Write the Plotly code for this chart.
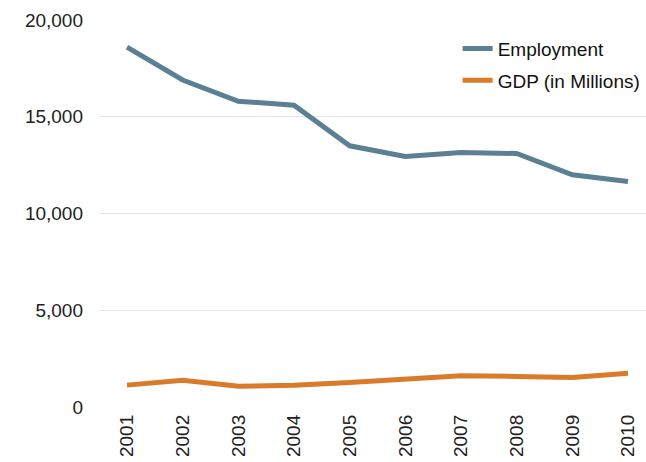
import plotly.graph_objects as go

years = ["2001", "2002", "2003", "2004", "2005", "2006", "2007", "2008", "2009", "2010"]
employment = [18600, 16900, 15800, 15600, 13500, 12950, 13150, 13100, 12000, 11650]
gdp = [1130, 1380, 1070, 1120, 1270, 1420, 1620, 1580, 1530, 1750]
y_ticks = [0, 5000, 10000, 15000, 20000]

fig = go.Figure()
fig.add_trace(go.Scatter(x=years, y=employment, mode="lines", name="Employment",
                         legendgroup="a",
                         line=dict(color="#5b7f93", width=5)))
fig.add_trace(go.Scatter(x=years, y=gdp, mode="lines", name="GDP (in Millions)",
                         legendgroup="b",
                         line=dict(color="#d97b29", width=5)))

fig.update_layout(
    width=646, height=462,
    margin=dict(l=100, r=0, t=20, b=55),
    paper_bgcolor="white", plot_bgcolor="white",
    font=dict(family="Liberation Sans, Arial, sans-serif", size=19, color="#222222"),
    showlegend=True,
    legend=dict(x=0.655, y=0.975, xanchor="left", yanchor="top",
                bgcolor="rgba(0,0,0,0)", font=dict(size=19, color="#111111"),
                tracegroupgap=4, itemwidth=30),
    xaxis=dict(type="category", range=[-0.485, 9.323], tickangle=-90,
               showgrid=False, showline=False, ticks="", zeroline=False,
               automargin=False, ticklabelstandoff=3),
    yaxis=dict(range=[0, 20000], tickvals=y_ticks, tickformat=",d",
               showgrid=True, gridcolor="#e6e6e6", gridwidth=1,
               zeroline=False, showline=False, ticks="", ticklabelstandoff=16,
               automargin=False),
)
fig.write_html(
    "out.html",
    config={"displayModeBar": False},
    post_script="document.body.style.margin='0';document.body.style.overflow='hidden';",
)
